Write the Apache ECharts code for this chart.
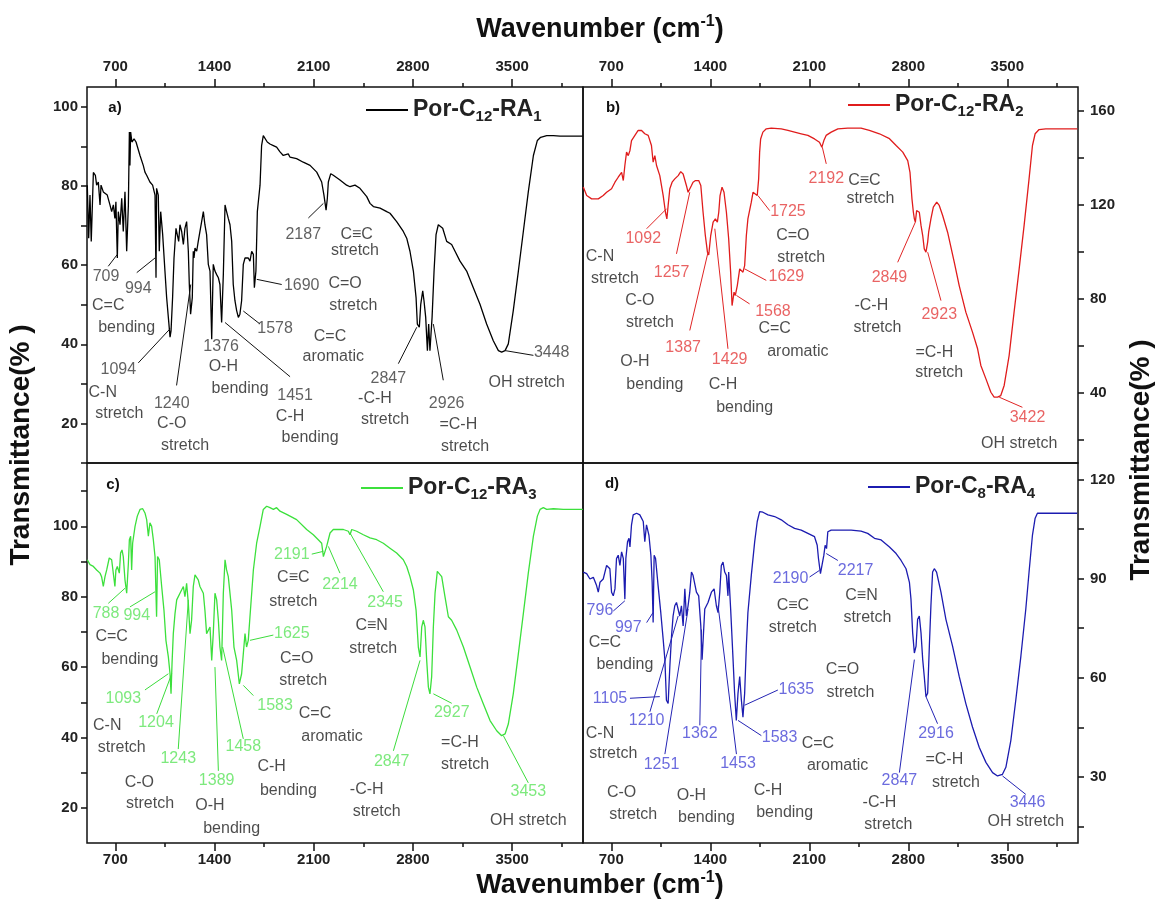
<!DOCTYPE html>
<html><head><meta charset="utf-8">
<script src="https://cdn.jsdelivr.net/npm/echarts@6/dist/echarts.min.js"></script>
<style>html,body{margin:0;padding:0;background:#fff}#c{width:1157px;height:907px}</style>
</head><body><div id="c"></div>
<script>
// ---------- tick values ----------
const wnMajor = [700, 1400, 2100, 2800, 3500];
const wnMinor = [1050, 1750, 2450, 3150, 3850];
const yTicksA = [10,20,30,40,50,60,70,80,90,100], yLabA = [20,40,60,80,100];
const yTicksB = [20,40,60,80,100,120,140,160], yLabB = [40,80,120,160];
const yTicksC = [20,30,40,50,60,70,80,90,100,110], yLabC = [20,40,60,80,100];
const yTicksD = [15,30,45,60,75,90,105,120], yLabD = [30,60,90,120];

// ---------- spectra [wavenumber, transmittance] ----------
const specA = [[502,80.2],[512,66.8],[521,77.7],[530,66.0],[545,83.4],[559,82.7],[568,80.2],[580,81.0],[592,75.2],[599,80.2],[615,78.5],[643,77.7],[662,75.2],[674,73.5],[686,75.2],[697,71.8],[704,76.0],[714,61.8],[721,73.5],[733,70.2],[745,76.9],[756,68.5],[768,78.5],[780,63.5],[792,75.2],[799,93.6],[803,85.2],[808,93.6],[817,91.1],[832,91.9],[846,91.1],[855,90.6],[874,87.7],[897,85.2],[909,83.5],[921,82.7],[944,81.0],[963,80.2],[980,77.7],[987,56.8],[991,79.4],[1003,77.7],[1010,63.5],[1020,73.5],[1034,67.7],[1050,58.5],[1062,51.8],[1074,46.8],[1086,41.8],[1093,43.4],[1104,51.8],[1114,61.8],[1128,69.3],[1137,67.7],[1147,66.0],[1156,70.2],[1168,68.5],[1180,65.2],[1191,69.3],[1203,71.0],[1215,63.5],[1222,55.1],[1231,47.6],[1243,51.8],[1250,63.5],[1255,61.8],[1262,64.3],[1274,63.5],[1285,66.0],[1297,68.5],[1309,71.0],[1321,73.5],[1332,70.2],[1344,67.7],[1356,60.2],[1368,58.5],[1380,41.3],[1391,60.2],[1403,58.5],[1415,57.6],[1427,56.8],[1438,55.1],[1450,45.5],[1462,57.6],[1474,75.2],[1485,73.5],[1497,71.8],[1509,70.2],[1521,66.0],[1532,55.1],[1544,51.0],[1556,48.5],[1568,46.8],[1579,47.6],[1591,51.0],[1603,60.2],[1615,61.8],[1626,61.8],[1638,61.8],[1650,61.0],[1662,63.5],[1674,62.7],[1681,54.3],[1692,58.5],[1702,73.5],[1709,76.0],[1721,80.2],[1732,90.2],[1744,92.7],[1756,93.2],[1772,91.1],[1791,90.6],[1815,90.2],[1838,89.8],[1862,88.6],[1885,87.7],[1920,88.1],[1932,87.3],[1979,86.9],[2026,86.0],[2074,85.2],[2121,83.5],[2156,81.0],[2172,77.7],[2187,73.9],[2196,76.9],[2203,81.0],[2220,83.1],[2238,82.7],[2285,81.5],[2332,80.2],[2356,79.8],[2391,80.2],[2426,79.4],[2474,77.3],[2497,75.6],[2521,74.8],[2568,74.4],[2615,73.5],[2638,73.1],[2685,71.0],[2732,68.5],[2756,66.8],[2779,63.5],[2803,58.5],[2822,51.8],[2831,45.1],[2845,44.3],[2855,50.1],[2869,53.5],[2878,51.0],[2890,46.8],[2902,38.4],[2911,45.1],[2920,38.4],[2935,46.8],[2949,58.5],[2963,67.7],[2979,70.2],[2991,70.6],[3010,69.3],[3038,66.0],[3073,65.2],[3097,63.5],[3132,61.0],[3179,58.5],[3226,54.3],[3273,50.1],[3320,45.1],[3367,40.9],[3403,38.4],[3426,38.0],[3450,38.4],[3473,40.1],[3508,48.5],[3544,58.5],[3579,68.5],[3614,78.5],[3650,87.7],[3678,91.5],[3701,92.3],[3744,92.7],[3791,92.7],[3838,92.6],[3885,92.6],[3998,92.6]];

const specB = [[502,127.4],[526,123.8],[561,122.4],[608,122.4],[643,123.8],[667,125.2],[679,124.5],[702,126.7],[726,129.5],[749,131.6],[773,133.7],[785,130.2],[796,136.6],[808,142.3],[820,140.8],[832,143.0],[843,147.2],[867,149.4],[890,151.5],[914,151.5],[937,150.1],[949,150.8],[961,149.4],[984,145.1],[996,138.0],[1008,140.8],[1020,136.6],[1043,132.3],[1067,123.8],[1083,116.7],[1093,113.9],[1102,119.6],[1114,126.7],[1130,129.5],[1149,130.9],[1173,132.3],[1191,134.0],[1208,133.0],[1220,132.3],[1231,128.1],[1243,125.2],[1255,125.2],[1267,128.1],[1278,129.5],[1295,130.2],[1318,130.2],[1333,128.1],[1349,116.7],[1365,106.8],[1380,99.7],[1389,98.5],[1403,106.8],[1420,112.5],[1436,113.9],[1450,112.5],[1460,116.7],[1469,123.8],[1483,127.4],[1497,125.2],[1514,116.7],[1530,105.4],[1544,91.2],[1554,77.0],[1568,82.7],[1577,81.3],[1591,85.5],[1608,92.6],[1619,93.3],[1631,91.2],[1643,94.0],[1655,106.8],[1666,113.9],[1690,121.0],[1702,125.2],[1714,126.0],[1732,123.8],[1742,130.9],[1749,142.3],[1756,147.9],[1772,150.8],[1796,152.2],[1831,152.5],[1902,152.2],[1949,151.5],[1996,150.8],[2043,150.1],[2090,149.4],[2137,147.9],[2172,146.5],[2189,144.4],[2203,147.2],[2219,149.4],[2255,150.8],[2302,152.2],[2372,152.5],[2466,152.5],[2525,151.5],[2596,150.1],[2667,148.0],[2714,145.1],[2761,142.3],[2796,138.7],[2812,133.7],[2819,128.1],[2826,122.4],[2836,116.7],[2843,113.9],[2850,112.5],[2859,117.4],[2869,118.2],[2878,116.7],[2890,111.1],[2902,106.8],[2913,101.1],[2925,99.7],[2937,104.0],[2944,108.2],[2960,113.9],[2977,118.9],[3001,121.0],[3019,119.6],[3043,115.3],[3078,108.2],[3125,95.5],[3160,85.5],[3207,74.2],[3254,65.7],[3290,58.6],[3313,51.5],[3349,45.8],[3384,40.1],[3407,38.0],[3431,38.0],[3454,38.7],[3478,43.0],[3513,55.7],[3548,74.2],[3584,92.6],[3619,111.1],[3654,130.9],[3678,145.1],[3697,150.1],[3725,151.9],[3772,152.2],[3866,152.2],[3995,152.2]];

const specC = [[502,90.5],[521,89.1],[545,88.6],[568,87.6],[592,86.7],[603,85.7],[615,82.9],[627,85.7],[639,87.6],[657,91.0],[674,90.5],[686,91.0],[697,82.9],[704,87.6],[714,88.6],[728,86.7],[737,92.4],[747,93.3],[756,91.4],[768,84.8],[780,81.0],[792,89.5],[799,96.2],[808,97.2],[815,87.6],[822,95.2],[839,100.0],[855,102.9],[874,104.8],[893,105.0],[909,103.8],[921,101.9],[933,97.2],[944,101.0],[956,100.0],[968,96.2],[980,91.4],[991,74.3],[998,91.4],[1010,90.5],[1027,82.9],[1043,76.2],[1057,67.6],[1074,62.9],[1086,58.1],[1093,52.4],[1100,61.0],[1109,69.5],[1121,75.2],[1133,79.1],[1144,79.1],[1156,81.0],[1168,81.0],[1180,82.9],[1191,80.0],[1203,83.8],[1215,78.1],[1227,69.5],[1238,73.3],[1250,82.9],[1262,86.2],[1274,85.7],[1285,84.8],[1297,82.9],[1309,82.9],[1321,81.0],[1332,76.2],[1344,69.5],[1356,69.5],[1368,71.4],[1380,61.9],[1391,69.5],[1403,81.0],[1415,79.1],[1427,73.3],[1438,65.7],[1450,61.9],[1462,81.0],[1474,90.5],[1485,87.6],[1497,85.7],[1509,85.7],[1521,76.2],[1537,65.7],[1556,61.9],[1575,55.2],[1591,58.1],[1603,63.8],[1615,69.5],[1626,65.7],[1638,67.6],[1650,74.3],[1674,87.6],[1697,95.2],[1721,100.0],[1744,104.8],[1768,105.7],[1791,105.3],[1815,104.8],[1838,105.3],[1862,104.3],[1909,103.4],[1979,101.9],[2050,99.1],[2097,97.6],[2132,96.2],[2156,95.2],[2168,91.4],[2179,91.0],[2191,94.3],[2215,98.1],[2238,99.1],[2309,99.1],[2344,98.6],[2356,97.6],[2368,99.1],[2403,98.6],[2450,97.6],[2497,96.7],[2544,96.2],[2591,95.2],[2638,93.8],[2685,92.4],[2732,90.5],[2756,88.6],[2779,85.7],[2803,81.9],[2822,76.2],[2838,65.7],[2850,62.9],[2862,71.4],[2873,73.3],[2885,71.4],[2897,61.9],[2909,54.3],[2920,52.4],[2932,57.2],[2944,71.4],[2956,81.0],[2972,87.2],[2986,87.6],[3003,85.7],[3026,80.0],[3050,74.3],[3073,73.3],[3109,70.5],[3156,65.7],[3203,60.0],[3250,54.3],[3297,49.5],[3344,44.8],[3391,41.9],[3426,40.5],[3450,41.0],[3473,43.8],[3508,52.4],[3544,63.8],[3579,75.2],[3614,86.7],[3650,97.2],[3678,102.9],[3697,104.8],[3720,105.3],[3744,104.8],[3791,105.0],[3861,104.8],[3998,104.8]];

const specD = [[502,92.0],[526,91.5],[549,89.9],[573,90.4],[596,87.9],[608,85.9],[620,88.9],[643,89.9],[667,94.0],[679,94.0],[690,93.0],[702,85.9],[714,84.8],[726,86.9],[737,96.1],[749,97.1],[761,94.0],[773,98.1],[785,96.1],[796,83.8],[803,96.1],[815,101.2],[825,102.2],[832,99.6],[843,106.3],[855,109.3],[879,109.8],[902,109.3],[926,107.3],[937,101.2],[949,106.3],[966,103.2],[980,97.1],[989,88.9],[996,76.7],[1003,97.1],[1013,96.1],[1031,87.9],[1050,79.7],[1067,71.6],[1079,65.5],[1090,53.2],[1102,52.2],[1114,63.4],[1126,72.6],[1137,78.7],[1149,81.8],[1161,82.8],[1173,82.8],[1184,78.7],[1196,81.8],[1208,75.7],[1220,86.9],[1231,78.7],[1243,81.8],[1255,85.9],[1267,92.0],[1278,91.0],[1302,85.9],[1318,84.8],[1333,75.7],[1342,65.5],[1361,80.8],[1384,82.8],[1408,85.9],[1427,86.9],[1443,81.8],[1455,79.7],[1467,85.9],[1478,94.0],[1490,95.0],[1502,92.0],[1514,91.0],[1525,84.8],[1530,92.0],[1544,80.8],[1561,65.5],[1572,55.3],[1584,47.1],[1596,55.3],[1608,60.4],[1620,53.2],[1631,48.1],[1643,55.3],[1655,69.6],[1666,79.7],[1690,91.0],[1714,101.2],[1732,107.3],[1749,110.3],[1772,110.1],[1808,109.3],[1855,108.8],[1902,107.8],[1949,106.3],[1996,105.2],[2043,104.7],[2090,103.7],[2137,102.7],[2156,100.1],[2165,96.1],[2179,91.5],[2189,92.0],[2203,97.1],[2212,100.1],[2222,99.1],[2231,104.2],[2255,104.7],[2325,104.7],[2396,104.7],[2466,104.4],[2513,103.7],[2561,102.2],[2608,101.7],[2667,99.6],[2714,97.6],[2749,95.5],[2784,93.0],[2808,88.9],[2819,83.8],[2831,73.6],[2843,67.5],[2855,69.6],[2866,77.7],[2878,78.7],[2890,73.6],[2902,65.5],[2913,60.4],[2925,54.3],[2937,55.3],[2949,69.6],[2960,81.8],[2972,92.0],[2984,93.0],[3000,92.0],[3031,85.9],[3066,77.7],[3113,69.6],[3160,60.4],[3207,52.2],[3254,45.1],[3302,38.9],[3349,34.4],[3396,31.3],[3431,30.3],[3466,30.8],[3490,32.9],[3525,41.0],[3560,53.2],[3596,66.5],[3631,80.8],[3654,92.0],[3678,103.2],[3697,108.3],[3713,109.8],[3772,109.8],[3866,109.8],[3995,109.8]];

// ---------- peak annotations [text, wavenumber, transmittance] ----------
const notesA = [['709',634,57.0],['994',862,54.1],['C=C',650,49.7],['bending',780,44.3],['1094',721,33.6],['C-N',611,27.7],['stretch',728,22.6],['1240',1098,25.1],['C-O',1098,19.9],['stretch',1192,14.4],['1376',1446,39.3],['O-H',1462,34.4],['bending',1580,28.8],['1451',1968,27.1],['C-H',1933,21.7],['bending',2074,16.3],['1690',2015,54.7],['1578',1827,43.9],['2187',2026,67.7],['C≡C',2403,67.7],['stretch',2391,63.7],['C=O',2321,55.3],['stretch',2379,49.7],['C=C',2215,41.9],['aromatic',2238,36.8],['2847',2626,31.3],['-C-H',2532,26.3],['stretch',2603,20.9],['2926',3038,25.1],['=C-H',3120,19.6],['stretch',3168,14.2],['3448',3779,38.0],['OH stretch',3603,30.3]];
const notesB = [['1092',926,105.4],['C-N',620,98.0],['stretch',726,88.4],['1257',1126,91.2],['C-O',902,79.1],['stretch',973,69.7],['1387',1208,59.3],['O-H',867,53.2],['bending',1008,43.4],['1429',1537,54.0],['C-H',1490,43.4],['bending',1643,33.7],['1725',1949,117.0],['C=O',1984,106.8],['stretch',2043,97.3],['1629',1938,89.5],['1568',1843,74.6],['C=C',1855,67.1],['aromatic',2019,57.4],['2192',2220,131.2],['C≡C',2490,130.2],['stretch',2532,122.6],['2849',2667,89.1],['-C-H',2539,77.0],['stretch',2582,67.8],['2923',3019,73.1],['=C-H',2984,57.1],['stretch',3019,48.4],['3422',3643,29.5],['OH stretch',3584,18.2]];
const notesC = [['788',634,75.3],['994',851,74.5],['C=C',674,68.8],['bending',803,62.2],['1093',756,51.0],['1204',987,44.1],['C-N',643,43.5],['stretch',745,37.1],['1243',1144,34.0],['C-O',869,27.3],['stretch',945,21.3],['1389',1415,27.6],['O-H',1368,20.7],['bending',1521,14.0],['1458',1603,37.3],['C-H',1803,31.6],['bending',1921,25.0],['1583',1827,49.1],['1625',1945,69.5],['C=O',1980,62.4],['stretch',2026,56.2],['C=C',2109,46.8],['aromatic',2229,40.2],['2191',1945,92.1],['C≡C',1956,85.3],['stretch',1956,78.6],['2214',2285,83.3],['2345',2603,78.3],['C≡N',2509,71.7],['stretch',2520,65.3],['2847',2650,33.1],['-C-H',2474,25.3],['stretch',2544,18.9],['2927',3074,47.1],['=C-H',3132,38.6],['stretch',3168,32.2],['3453',3614,24.5],['OH stretch',3614,16.5]];
const notesD = [['796',620,80.2],['997',820,75.2],['C=C',655,70.6],['bending',796,63.9],['1105',691,53.8],['1210',950,47.1],['C-N',620,43.2],['stretch',714,37.1],['1251',1055,33.7],['1362',1326,43.1],['1453',1596,33.9],['1583',1890,42.0],['C=C',2161,40.2],['aromatic',2300,33.5],['1635',2008,56.5],['C=O',2335,62.4],['stretch',2391,55.4],['C-O',773,25.4],['stretch',855,18.6],['O-H',1267,24.4],['bending',1373,17.6],['C-H',1808,25.9],['bending',1926,19.1],['2190',1968,89.9],['C≡C',1984,81.8],['stretch',1984,75.2],['2217',2427,92.5],['C≡N',2469,84.8],['stretch',2511,78.3],['2847',2737,28.8],['-C-H',2596,22.1],['stretch',2659,15.7],['2916',2996,43.1],['=C-H',3055,35.1],['stretch',3137,28.3],['3446',3643,22.1],['OH stretch',3631,16.5]];

// ---------- leader lines [wn1, T1, wn2, T2] ----------
const leadA = [[650,59.7,714,62.7],[851,58.1,980,61.8],[862,35.3,1086,43.9],[1132,29.6,1232,55.1],[1933,31.8,1474,45.5],[1721,45.1,1603,48.4],[1874,55.1,1698,56.4],[2062,71.9,2168,75.6],[2697,35.1,2827,44.3],[3014,30.9,2944,45.1],[3650,37.2,3450,38.4]];
const leadB = [[950,109.7,1091,118.2],[1161,99.0,1255,125.2],[1255,66.4,1384,99.7],[1525,58.6,1432,109.7],[1820,117.4,1737,123.8],[1796,87.7,1643,92.6],[1678,77.7,1585,81.3],[2220,137.3,2192,144.4],[2725,95.4,2850,112.5],[3031,79.1,2937,99.7],[3607,33.7,3443,38.0]];
const leadC = [[650,78.1,768,82.4],[803,77.1,980,81.4],[909,53.5,1074,58.1],[992,46.7,1098,58.1],[1144,36.7,1215,79.1],[1427,30.5,1403,60.0],[1603,39.6,1457,65.7],[1674,51.9,1603,54.8],[1815,69.1,1650,67.6],[2086,92.1,2168,92.9],[2285,86.7,2203,94.3],[2591,81.4,2356,98.1],[2662,36.2,2850,61.9],[3074,49.7,2944,52.4],[3614,27.1,3438,40.5]];
const leadD = [[714,80.2,796,83.3],[950,76.7,996,79.8],[832,53.8,1043,54.3],[973,49.7,1173,78.7],[1079,36.9,1243,80.8],[1326,45.6,1338,74.6],[1585,36.9,1455,81.8],[1761,42.5,1596,47.1],[1878,56.3,1643,51.7],[2102,90.5,2172,92.5],[2302,95.5,2220,97.6],[2737,31.3,2843,65.5],[3007,46.1,2925,54.3],[3631,24.7,3466,30.3]];

const names = ['Por-C12-RA1', 'Por-C12-RA2', 'Por-C12-RA3', 'Por-C8-RA4'];

// ---------- layout / style ----------
const FONT = '"Liberation Sans", Arial, sans-serif';
const panels = [
  {grid:{left:87, top:87, width:496, height:376}, xPos:'top', yPos:'left', yMin:10, yMax:105, yTicks:yTicksA, yLab:yLabA,
   spec:specA, notes:notesA, lead:leadA, color:'#000000', numColor:'#3a3a3a', leadColor:'#111111', tag:'a)', tagXY:[115,108], leg:[366,96]},
  {grid:{left:583, top:87, width:495, height:376}, xPos:'top', yPos:'right', yMin:10, yMax:170, yTicks:yTicksB, yLab:yLabB,
   spec:specB, notes:notesB, lead:leadB, color:'#e01c1c', numColor:'#e43c3c', leadColor:'#e02424', tag:'b)', tagXY:[613,108], leg:[848,91]},
  {grid:{left:87, top:463, width:496, height:380}, xPos:'bottom', yPos:'left', yMin:10, yMax:118, yTicks:yTicksC, yLab:yLabC,
   spec:specC, notes:notesC, lead:leadC, color:'#3ce03c', numColor:'#5ce45c', leadColor:'#3cdc3c', tag:'c)', tagXY:[113,485], leg:[361,474]},
  {grid:{left:583, top:463, width:495, height:380}, xPos:'bottom', yPos:'right', yMin:10, yMax:125, yTicks:yTicksD, yLab:yLabD,
   spec:specD, notes:notesD, lead:leadD, color:'#1c1cb0', numColor:'#4646d6', leadColor:'#2424b4', tag:'d)', tagXY:[612,484], leg:[868,473]}
];

const tickLabel = {fontSize:15, fontWeight:'bold', color:'#222', fontFamily:FONT, formatter: v => String(v)};
const grid = [], xAxis = [], yAxis = [], series = [], legend = [];
panels.forEach((p, i) => {
  grid.push(Object.assign({show:true, borderColor:'#111', borderWidth:1.5, backgroundColor:'transparent'}, p.grid));
  xAxis.push({type:'value', gridIndex:i, min:500, max:4000, position:p.xPos,
    axisLine:{show:false, onZero:false}, splitLine:{show:false},
    axisTick:{show:true, length:8, customValues:wnMajor, lineStyle:{color:'#111', width:1.5}},
    axisLabel:Object.assign({show:true, customValues:wnMajor, margin:p.xPos==='top'?13:9}, tickLabel)});
  yAxis.push({type:'value', gridIndex:i, min:p.yMin, max:p.yMax, position:p.yPos,
    axisLine:{show:false, onZero:false}, splitLine:{show:false},
    axisTick:{show:true, length:6, customValues:p.yTicks, lineStyle:{color:'#111', width:1.5}},
    axisLabel:Object.assign({show:true, customValues:p.yLab, margin:p.yPos==='left'?9:12}, tickLabel)});
  series.push({type:'line', name:names[i], xAxisIndex:i, yAxisIndex:i, data:p.spec, symbol:'none', showSymbol:false,
    lineStyle:{color:p.color, width:1.3}, itemStyle:{color:p.color}, animation:false, z:3});
  series.push({type:'lines', coordinateSystem:'cartesian2d', xAxisIndex:i, yAxisIndex:i, silent:true, animation:false, z:4,
    lineStyle:{color:p.leadColor, width:1, opacity:1},
    data:p.lead.map(l => ({coords:[[l[0], l[1]], [l[2], l[3]]]}))});
  series.push({type:'scatter', xAxisIndex:i, yAxisIndex:i, silent:true, animation:false, z:5, symbolSize:1,
    itemStyle:{color:'rgba(0,0,0,0)'},
    data:p.notes.map(n => ({value:[n[1], n[2]], label:{show:true, position:'inside', formatter:n[0],
      color:/^\d+$/.test(n[0]) ? p.numColor : '#1e1e1e', fontSize:16, fontFamily:FONT, textBorderWidth:0}}))});
  legend.push({data:[names[i]], left:p.leg[0], top:p.leg[1], itemWidth:42, itemHeight:2, icon:'rect', selectedMode:false, padding:0,
    itemStyle:{color:p.color, borderWidth:0},
    formatter: nm => nm.replace(/C(\d+)-RA(\d)/, 'C{s|$1}-RA{s|$2}'),
    textStyle:{fontSize:23, fontWeight:'bold', color:'#222', fontFamily:FONT, lineHeight:28,
      rich:{s:{fontSize:15, fontWeight:'bold', color:'#222', fontFamily:FONT, verticalAlign:'bottom', lineHeight:12}}}});
});
// minor x ticks
panels.forEach((p, i) => {
  xAxis.push({type:'value', gridIndex:i, min:500, max:4000, position:p.xPos,
    axisLine:{show:false, onZero:false}, splitLine:{show:false}, axisLabel:{show:false},
    axisTick:{show:true, length:4, customValues:wnMinor, lineStyle:{color:'#111', width:1.5}}});
});

const txt = (x, y, text, size, extra) => Object.assign({type:'text', x:x, y:y, silent:true,
  style:{text:text, fontSize:size, fontWeight:'bold', fontFamily:FONT, fill:'#111', align:'center', verticalAlign:'middle',
    textAlign:'center', textVerticalAlign:'middle'}}, extra || {});
const supRich = {sup:{fontSize:16, fontWeight:'bold', fontFamily:FONT, fill:'#111', verticalAlign:'top', lineHeight:14}};
const graphic = [
  {type:'text', x:600, y:30, silent:true, style:{text:'Wavenumber (cm{sup|-1})', fontSize:27, fontWeight:'bold', fontFamily:FONT, fill:'#111', lineHeight:32, align:'center', verticalAlign:'middle', rich:supRich}},
  {type:'text', x:600, y:886, silent:true, style:{text:'Wavenumber (cm{sup|-1})', fontSize:27, fontWeight:'bold', fontFamily:FONT, fill:'#111', lineHeight:32, align:'center', verticalAlign:'middle', rich:supRich}},
  txt(21, 445, 'Transmittance(% )', 28, {rotation:Math.PI/2}),
  txt(1141, 460, 'Transmittance(% )', 28, {rotation:Math.PI/2})
];
panels.forEach(p => graphic.push(txt(p.tagXY[0], p.tagXY[1], p.tag, 15)));

const chart = echarts.init(document.getElementById('c'), null, {renderer:'canvas', width:1157, height:907});
chart.setOption({animation:false, backgroundColor:'#ffffff', grid, xAxis, yAxis, series, legend, graphic});
</script></body></html>
